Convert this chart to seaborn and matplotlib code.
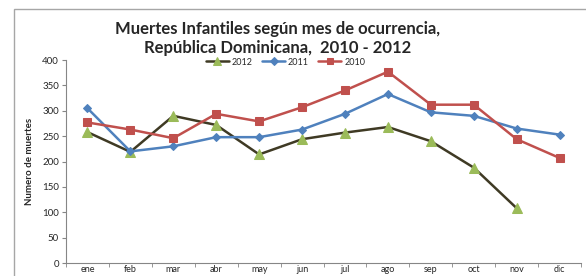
import pandas as pd
import matplotlib
matplotlib.use('Agg')
import matplotlib.pyplot as plt
import seaborn as sns
from matplotlib.patches import Rectangle

# Data
meses = ['ene', 'feb', 'mar', 'abr', 'may', 'jun', 'jul', 'ago', 'sep', 'oct', 'nov', 'dic']
muertes_2012 = [258, 219, 290, 272, 214, 244, 257, 268, 240, 188, 108]
muertes_2011 = [305, 220, 230, 248, 248, 263, 294, 333, 297, 290, 265, 253]
muertes_2010 = [277, 263, 246, 294, 279, 307, 340, 377, 312, 312, 244, 207]

sns.set_style('white')
plt.rcParams['font.family'] = ['Lato', 'DejaVu Sans']

fig = plt.figure(figsize=(5.86, 2.76), dpi=100)
ax = fig.add_axes([0.1126, 0.047, 0.879, 0.7355])

# outer chart border
fig.patches.append(Rectangle((14 / 586, -0.05), 1.0, 1 - 9 / 276 + 0.05,
                             transform=fig.transFigure, fill=False,
                             edgecolor='#a6a6a6', linewidth=1.0))

x12 = list(range(len(muertes_2012)))
x = list(range(len(meses)))

sns.lineplot(x=x12, y=muertes_2012, ax=ax, color='#3f3a24', linewidth=1.8,
             marker='^', markersize=6.5, markerfacecolor='#9bbb59',
             markeredgecolor='#9bbb59', label='2012')
sns.lineplot(x=x, y=muertes_2011, ax=ax, color='#4f81bd', linewidth=1.8,
             marker='D', markersize=4.5, markerfacecolor='#4f81bd',
             markeredgecolor='#4f81bd', label='2011')
sns.lineplot(x=x, y=muertes_2010, ax=ax, color='#c0504d', linewidth=1.8,
             marker='s', markersize=6, markerfacecolor='#c0504d',
             markeredgecolor='#c0504d', label='2010')

ax.set_xlim(-0.5, 11.5)
ax.set_ylim(0, 400)
ax.set_yticks(range(0, 401, 50))
ax.tick_params(axis='y', labelsize=7, length=3, direction='out', left=True,
               color='#868686', pad=2)

ax.set_xticks(x)
ax.set_xticklabels(meses, fontsize=6.5)
ax.set_xticks([i - 0.5 for i in range(13)], minor=True)
ax.tick_params(axis='x', which='major', length=0, pad=1.5)
ax.tick_params(axis='x', which='minor', length=3, direction='out',
               bottom=True, color='#868686')

for side in ['top', 'right']:
    ax.spines[side].set_visible(False)
for side in ['left', 'bottom']:
    ax.spines[side].set_color('#868686')
    ax.spines[side].set_linewidth(0.8)

ax.set_ylabel('Numero de muertes', fontsize=7, fontweight='bold', labelpad=6)

fig.text(0.473, 0.862, 'Muertes Infantiles según mes de ocurrencia,\nRepública Dominicana,  2010 - 2012',
         ha='center', va='center', fontsize=12, fontweight='bold', linespacing=1.22)

ax.legend(loc='center', bbox_to_anchor=(0.487, 0.775), bbox_transform=fig.transFigure,
          ncol=3, frameon=False, fontsize=6.5, handlelength=2.6, columnspacing=1.0,
          handletextpad=0.3, borderpad=0, markerscale=0.8)

fig.savefig('out.png', dpi=100)
